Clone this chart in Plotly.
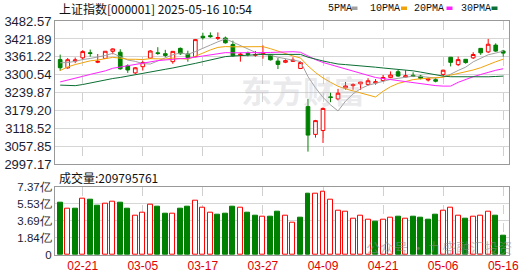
import plotly.graph_objects as go

# ---------------- data ----------------
dates = ["02-18","02-19","02-20","02-21","02-24","02-25","02-26","02-27","02-28",
         "03-03","03-04","03-05","03-06","03-07","03-10","03-11","03-12","03-13","03-14",
         "03-17","03-18","03-19","03-20","03-21","03-24","03-25","03-26","03-27","03-28","03-31",
         "04-01","04-02","04-03","04-07","04-08","04-09","04-10","04-11","04-14","04-15","04-16",
         "04-17","04-18","04-21","04-22","04-23","04-24","04-25","04-28","04-29","04-30",
         "05-06","05-07","05-08","05-09","05-12","05-13","05-14","05-15","05-16"]

opens  = [3352,3324,3347,3358,3375,3343,3356,3380,3377,3331,3307,3328,3357,3375,3372,3345,3390,3371,3362,
          3431,3433,3424,3425,3403,3368,3373,3367,3370,3368,3347,3343,3346,3322,3193,3099,3112,3226,3219,
          3256,3264,3270,3268,3273,3281,3291,3311,3293,3299,3296,3283,3284,3302,3360,3335,3353,3358,3390,
          3378,3401,3381]
highs  = [3369,3357,3359,3384,3386,3371,3381,3390,3387,3336,3327,3348,3384,3394,3385,3380,3393,3382,3421,
          3443,3444,3444,3430,3416,3375,3379,3381,3400,3371,3357,3353,3360,3347,3219,3148,3190,3240,3253,
          3276,3272,3277,3289,3286,3300,3312,3317,3316,3309,3300,3291,3290,3318,3361,3362,3354,3377,3391,
          3422,3407,3385]
lows   = [3314,3321,3340,3352,3362,3340,3354,3370,3318,3307,3303,3315,3354,3368,3360,3338,3368,3345,3360,
          3420,3426,3418,3406,3362,3345,3363,3362,3355,3349,3320,3340,3344,3320,3040.7,3088,3070,3208,3214,
          3250,3250,3250,3264,3267,3276,3289,3294,3292,3293,3285,3278,3275,3296,3329,3330,3338,3354,3368,
          3374,3378,3362]
closes = [3324.49,3351.54,3350.78,3379.11,3373.03,3346.04,3380.21,3388.06,3320.90,3316.93,3324.21,3341.96,
          3381.10,3372.55,3366.16,3379.83,3371.92,3358.73,3419.56,3426.13,3429.76,3426.43,3408.95,3364.83,
          3370.03,3369.98,3368.70,3373.75,3351.31,3335.75,3348.44,3350.13,3342.01,3096.58,3145.55,3186.81,
          3223.64,3238.23,3262.81,3267.66,3276.00,3280.34,3276.73,3291.43,3299.76,3296.36,3297.29,3295.06,
          3288.41,3286.65,3279.03,3316.11,3342.67,3352.00,3341.97,3369.24,3374.87,3403.95,3380.82,3374.00]

ma5  = [3341.18,3342.21,3345.87,3352.35,3355.79,3360.10,3365.83,3373.29,3361.65,3350.43,3346.06,3338.41,
        3337.02,3347.35,3357.20,3368.32,3374.31,3369.84,3379.24,3391.23,3401.22,3412.12,3422.17,3411.22,
        3400.00,3388.04,3376.50,3369.46,3366.75,3359.90,3355.59,3351.88,3345.53,3294.58,3256.54,3224.22,
        3198.92,3178.16,3211.41,3235.83,3253.67,3265.01,3272.71,3278.43,3284.85,3288.92,3292.31,3295.98,
        3295.38,3292.75,3289.29,3293.05,3302.57,3315.29,3326.36,3344.40,3356.15,3368.41,3374.17,3380.58]
ma10 = [3314.99,3327.20,3335.21,3342.76,3347.84,3350.64,3354.02,3359.58,3357.00,3353.11,3353.08,3352.12,
        3355.16,3354.50,3353.81,3357.19,3356.36,3353.43,3363.30,3374.22,3384.77,3393.22,3396.00,3395.23,
        3395.62,3394.63,3394.31,3395.81,3388.99,3379.95,3371.82,3364.19,3357.49,3330.67,3308.22,3289.90,
        3275.40,3261.85,3253.00,3246.19,3238.94,3231.96,3225.44,3244.92,3260.34,3271.30,3278.66,3284.34,
        3286.90,3288.80,3289.11,3292.68,3299.28,3305.33,3309.56,3316.84,3324.60,3335.49,3344.73,3353.47]
ma20 = [3276.49,3282.02,3288.21,3295.36,3301.92,3307.00,3313.88,3322.61,3327.14,3330.36,3334.04,3339.66,
        3345.18,3348.63,3350.83,3353.92,3355.19,3356.51,3360.15,3363.66,3368.93,3372.67,3375.58,3374.86,
        3374.71,3375.91,3375.34,3374.62,3376.14,3377.08,3378.29,3378.70,3376.75,3362.95,3351.92,3342.27,
        3334.85,3328.83,3320.99,3313.07,3305.38,3298.08,3291.46,3287.79,3284.28,3280.60,3277.03,3273.09,
        3269.95,3267.49,3264.02,3262.32,3262.36,3275.13,3284.95,3294.07,3301.63,3309.92,3315.82,3321.13]
ma30 = [3265.68,3263.82,3263.79,3267.67,3273.06,3277.70,3282.71,3287.98,3291.63,3296.57,3302.02,3305.39,
        3310.52,3315.07,3319.22,3323.73,3328.04,3332.88,3339.19,3344.98,3350.95,3357.51,3362.12,3364.16,
        3365.76,3367.49,3368.23,3369.61,3369.76,3369.09,3369.89,3369.84,3369.55,3360.13,3352.55,3347.24,
        3342.02,3337.03,3335.09,3333.45,3331.84,3329.79,3326.31,3323.61,3321.39,3318.61,3316.12,3314.00,
        3309.63,3304.98,3299.96,3296.28,3294.07,3293.64,3292.71,3292.68,3292.89,3293.89,3294.88,3296.15]

# volume in 亿
volumes = [5.68,4.97,4.97,6.05,5.97,5.33,5.51,5.73,5.65,5.01,4.25,4.57,5.40,5.22,4.50,4.43,5.01,5.22,5.83,
           5.08,4.57,4.39,4.50,5.26,5.08,4.61,4.29,4.14,4.14,4.68,4.22,3.50,4.04,6.66,6.58,6.80,5.94,4.75,
           4.65,3.90,4.22,3.79,3.61,3.79,4.00,4.14,3.90,4.14,4.04,3.82,4.36,4.75,5.08,4.22,3.93,4.11,4.22,
           4.65,4.25,2.10]
vol_dir = ["d","u","d","u","d","d","u","u","d","d","u","u","u","d","d","u","d","d","u","u","u","d","d","d",
           "u","d","d","u","d","d","u","u","d","d","u","u","u","u","u","u","u","u","d","u","u","d","u","d",
           "d","d","d","u","u","u","d","u","u","u","d","d"]

label_dates = ["02-21","03-05","03-17","03-27","04-09","04-21","05-06","05-16"]
price_ticks = [2997.17,3057.85,3118.52,3179.20,3239.87,3300.54,3361.22,3421.89,3482.57]
price_ticktext = ["2997.17","3057.85","3118.52","3179.20","3239.87","3300.54","3361.22","3421.89","3482.57"]
vol_ticks = [0,1.84,3.69,5.53,7.37]
vol_ticktext = ["0","1.84亿","3.69亿","5.53亿","7.37亿"]

title_text = "上证指数[000001] 2025-05-16 10:54"
vol_title = "成交量:209795761"
ma_names = ["5PMA","10PMA","20PMA","30PMA"]
ma_colors = ["#a0a0a0","#f0a30a","#ff22ff","#0b6e33"]

RED = "#ff0000"
GREEN = "#008000"

fig = go.Figure()

for name, vals, col in zip(ma_names, [ma5, ma10, ma20, ma30], ma_colors):
    fig.add_trace(go.Scatter(x=dates, y=vals, mode="lines", name=name,
                             line=dict(color=col, width=1), xaxis="x", yaxis="y",
                             hoverinfo="skip"))

fig.add_trace(go.Candlestick(x=dates, open=opens, high=highs, low=lows, close=closes,
                             increasing=dict(line=dict(color=RED, width=1), fillcolor="white"),
                             decreasing=dict(line=dict(color=GREEN, width=1), fillcolor=GREEN),
                             whiskerwidth=0, xaxis="x", yaxis="y", name="K"))

fig.add_trace(go.Bar(x=dates, y=volumes, width=0.66, xaxis="x2", yaxis="y2",
                     marker=dict(color=["white" if d == "u" else GREEN for d in vol_dir],
                                 line=dict(color=[RED if d == "u" else GREEN for d in vol_dir], width=1)),
                     name="VOL"))

border = "#999999"
axis_common = dict(showline=True, mirror=True, linecolor=border, linewidth=1, zeroline=False,
                   ticks="", automargin=False)

fig.update_layout(
    width=530, height=276,
    margin=dict(l=55, r=21, t=21, b=21),
    paper_bgcolor="white", plot_bgcolor="white",
    showlegend=False,
    bargap=0,
    xaxis=dict(domain=[0, 1], anchor="y", type="category", range=[-0.69, 59.77],
               tickvals=label_dates, showticklabels=False, showgrid=True,
               gridcolor="#d0d0d0", griddash="dash", gridwidth=1,
               rangeslider=dict(visible=False), **axis_common),
    yaxis=dict(domain=[0.3868, 1], anchor="x", range=[2997.15, 3482.59],
               tickvals=price_ticks, ticktext=price_ticktext, showgrid=True,
               gridcolor="#d6d6d6", gridwidth=1,
               tickfont=dict(family="Arial", size=13, color="#1c1c30"), **axis_common),
    xaxis2=dict(domain=[0, 1], anchor="y2", type="category", range=[-0.69, 59.77], matches="x",
                tickvals=label_dates, ticktext=label_dates, showgrid=True,
                gridcolor="#d0d0d0", griddash="dash", gridwidth=1,
                tickfont=dict(family="Arial", size=12, color="#e00000"), **axis_common),
    yaxis2=dict(domain=[0, 0.2919], anchor="x2", range=[0, 7.372],
                tickvals=vol_ticks, ticktext=vol_ticktext, showgrid=True,
                gridcolor="#d6d6d6", gridwidth=1,
                tickfont=dict(family="Arial", size=11.5, color="#1c1c30"), **axis_common),
)

def px2x(px):
    return (px - 55) / 454.0

def py2y(py):
    return (255 - py) / 234.0

ann = []
ann.append(dict(text=title_text, x=px2x(57), y=py2y(9), xref="paper", yref="paper",
                xanchor="left", yanchor="middle", showarrow=False,
                font=dict(family="Noto Sans CJK SC", size=12, color="#111")))
ann.append(dict(text=vol_title, x=px2x(57), y=py2y(177), xref="paper", yref="paper",
                xanchor="left", yanchor="middle", showarrow=False,
                font=dict(family="Noto Sans CJK SC", size=12, color="#111")))
legend_x = [325.5, 367.5, 411.5, 459]
block_x = [351.5, 401, 446.5, 491.5]
shapes = []
for name, col, lx, bx in zip(ma_names, ma_colors, legend_x, block_x):
    ann.append(dict(text=name, x=px2x(lx), y=py2y(9), xref="paper", yref="paper",
                    xanchor="left", yanchor="middle", showarrow=False,
                    font=dict(family="Liberation Mono", size=10, color="#111")))
    shapes.append(dict(type="rect", xref="paper", yref="paper",
                       x0=px2x(bx), x1=px2x(bx + 6), y0=py2y(10), y1=py2y(6.5),
                       fillcolor=col, line=dict(width=0)))
# watermarks
ann.append(dict(text="<b>东方财富</b>", x=px2x(303), y=py2y(90), xref="paper", yref="paper",
                xanchor="center", yanchor="middle", showarrow=False,
                font=dict(family="Noto Sans CJK SC", size=31, color="rgba(190,190,200,0.33)")))
ann.append(dict(text="公众号 · 九盛融汇投资", x=px2x(513), y=py2y(246.5), xref="paper", yref="paper",
                xanchor="right", yanchor="middle", showarrow=False, borderpad=0,
                font=dict(family="Noto Sans CJK SC", size=14, color="rgba(140,140,140,0.55)")))

fig.update_layout(annotations=ann, shapes=shapes)

fig.write_html("out.html")
